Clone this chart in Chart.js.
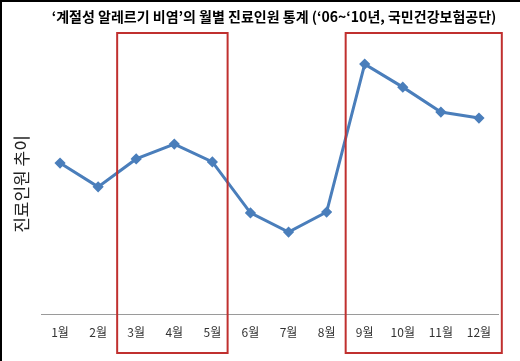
<!DOCTYPE html>
<html>
<head>
<meta charset="utf-8">
<script src="https://cdn.jsdelivr.net/npm/chart.js@4/dist/chart.umd.min.js"></script>
<style>
    html, body { margin: 0; padding: 0; background: #fff; }
    #wrap { width: 520px; height: 361px; position: relative; }
</style>
</head>
<body>
<div id="wrap"><canvas id="chart" width="520" height="361"></canvas></div>
<script>
const months = ["1월", "2월", "3월", "4월", "5월", "6월", "7월", "8월", "9월", "10월", "11월", "12월"];
const patients = [55.1, 46.4, 56.6, 62.0, 55.5, 36.9, 29.9, 37.2, 91.2, 82.8, 73.7, 71.5];
// highlighted month ranges (category index, fractional)
const boxStart = [1.5, 7.5];
const boxEnd = [4.4, 11.6];

const titleText = "‘계절성 알레르기 비염’의 월별 진료인원 통계 (‘06~‘10년, 국민건강보험공단)";
const yTitle = "진료인원 추이";
const fontFamily = "'Noto Sans CJK KR', 'Noto Sans', sans-serif";

const decorPlugin = {
    id: 'decor',
    beforeDraw(chart) {
        const ctx = chart.ctx;
        ctx.save();
        ctx.fillStyle = '#fff';
        ctx.fillRect(0, 0, chart.width, chart.height);
        // cropped frame: top and left edges only
        ctx.fillStyle = '#000';
        ctx.fillRect(0, 0, chart.width, 2);
        ctx.fillRect(0, 0, 2, chart.height);
        // title
        ctx.fillStyle = '#000';
        ctx.font = 'bold 14px ' + fontFamily;
        ctx.textAlign = 'center';
        ctx.textBaseline = 'middle';
        ctx.fillText(titleText, 274, 17);
        // y title
        ctx.translate(22, 184);
        ctx.rotate(-Math.PI / 2);
        ctx.font = '17px ' + fontFamily;
        ctx.fillStyle = '#222';
        ctx.fillText(yTitle, 0, 0);
        ctx.restore();
    },
    afterDraw(chart) {
        const ctx = chart.ctx;
        const x = chart.scales.x;
        const area = chart.chartArea;
        ctx.save();
        ctx.strokeStyle = '#c0302f';
        ctx.lineWidth = 2;
        boxStart.forEach((s, i) => {
            const left = x.getPixelForValue(s);
            const right = x.getPixelForValue(boxEnd[i]);
            ctx.strokeRect(left, area.top - 7, right - left, area.bottom - area.top + 46);
        });
        ctx.restore();
    }
};

new Chart(document.getElementById('chart'), {
    type: 'line',
    data: {
        labels: months,
        datasets: [{
            data: patients,
            borderColor: '#4a7ebb',
            backgroundColor: '#4a7ebb',
            borderWidth: 3,
            pointStyle: 'rectRot',
            pointRadius: 3.5,
            pointHoverRadius: 3.5,
            tension: 0,
            fill: false
        }]
    },
    options: {
        responsive: false,
        animation: false,
        layout: { padding: { left: 41, right: 22, top: 40, bottom: 0 } },
        plugins: {
            legend: { display: false },
            tooltip: { enabled: false },
            title: { display: false }
        },
        scales: {
            x: {
                offset: true,
                grid: { display: false, drawTicks: false },
                border: { display: true, color: '#9a9a9a', width: 1 },
                ticks: {
                    padding: 11,
                    color: '#333',
                    font: { family: fontFamily, size: 12 },
                    maxRotation: 0,
                    autoSkip: false
                },
                afterFit(scale) { scale.height = 47; }
            },
            y: {
                display: false,
                min: 0,
                max: 100
            }
        }
    },
    plugins: [decorPlugin]
});
</script>
</body>
</html>
